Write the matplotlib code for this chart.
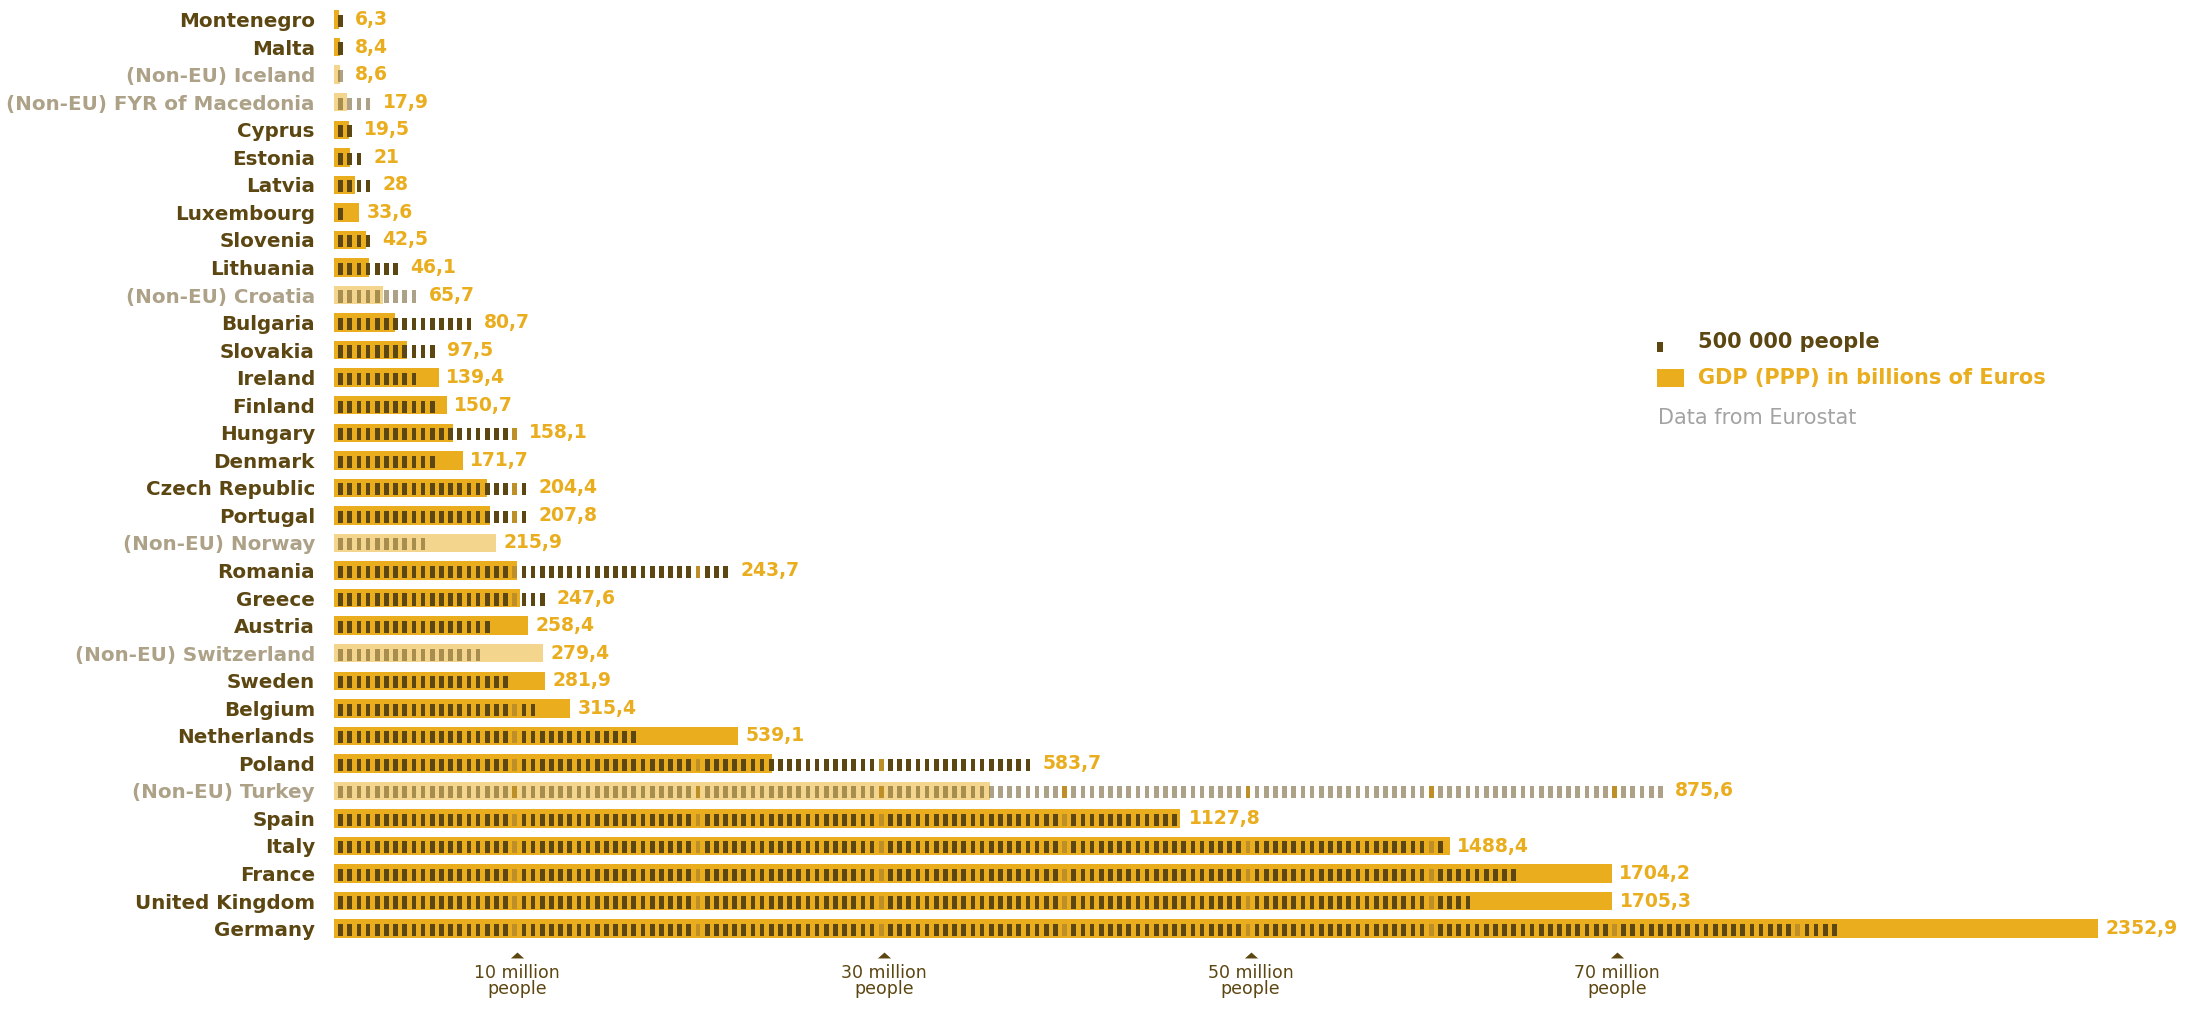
import matplotlib
matplotlib.use("Agg")
import matplotlib.pyplot as plt
from matplotlib.patches import Rectangle

# rows from top to bottom
countries = ["Montenegro", "Malta", "(Non-EU) Iceland", "(Non-EU) FYR of Macedonia",
             "Cyprus", "Estonia", "Latvia", "Luxembourg", "Slovenia", "Lithuania",
             "(Non-EU) Croatia", "Bulgaria", "Slovakia", "Ireland", "Finland", "Hungary",
             "Denmark", "Czech Republic", "Portugal", "(Non-EU) Norway", "Romania",
             "Greece", "Austria", "(Non-EU) Switzerland", "Sweden", "Belgium",
             "Netherlands", "Poland", "(Non-EU) Turkey", "Spain", "Italy", "France",
             "United Kingdom", "Germany"]

# GDP (PPP) in billions of Euros
gdp = [6.3, 8.4, 8.6, 17.9, 19.5, 21, 28, 33.6, 42.5, 46.1, 65.7, 80.7, 97.5, 139.4,
       150.7, 158.1, 171.7, 204.4, 207.8, 215.9, 243.7, 247.6, 258.4, 279.4, 281.9,
       315.4, 539.1, 583.7, 875.6, 1127.8, 1488.4, 1704.2, 1705.3, 2352.9]
gdp_labels = ["6,3", "8,4", "8,6", "17,9", "19,5", "21", "28", "33,6", "42,5", "46,1",
              "65,7", "80,7", "97,5", "139,4", "150,7", "158,1", "171,7", "204,4",
              "207,8", "215,9", "243,7", "247,6", "258,4", "279,4", "281,9", "315,4",
              "539,1", "583,7", "875,6", "1127,8", "1488,4", "1704,2", "1705,3", "2352,9"]

# population in millions (one mark = 500 000 people)
population = [0.6, 0.4, 0.3, 2.1, 0.8, 1.3, 2.2, 0.5, 2.0, 3.3, 4.4, 7.5, 5.4, 4.5,
              5.4, 10.0, 5.5, 10.5, 10.6, 4.9, 21.5, 11.3, 8.4, 7.8, 9.3, 10.8, 16.6,
              38.2, 72.6, 46.0, 60.3, 64.7, 62.0, 81.8]

tick_values = [10, 30, 50, 70]
tick_labels = ["10 million\npeople", "30 million\npeople", "50 million\npeople", "70 million\npeople"]

GDP_PER_MILLION = 24.45   # billions of euros drawn as long as one million people

DARK = "#5c4611"
GOLD = "#e9ad1d"
TENTH = "#bf8f27"
GREY = "#a3a3a3"


def main():
    plt.rcParams['font.family'] = ['DejaVu Sans']
    W, H = 2200, 1016
    fig = plt.figure(figsize=(W / 100, H / 100), dpi=100)
    x0 = 334
    ax = fig.add_axes([x0 / W, 0, 1 - x0 / W, 1])
    ax.set_xlim(0, (W - x0) / 18.33)
    ax.set_ylim(36.17, -0.711)
    ax.axis('off')

    for i in range(len(countries)):
        name = countries[i]
        non_eu = name.startswith("(Non-EU)")
        a = 0.5 if non_eu else 1.0
        blen = gdp[i] / GDP_PER_MILLION
        ax.barh(i, blen, height=0.67, left=0, color=GOLD, alpha=a, linewidth=0)

        n = int(population[i] * 2 + 0.5)
        lefts = [0.5 * k + 0.23 for k in range(n)]
        cols = [TENTH if (k + 1) % 20 == 0 else DARK for k in range(n)]
        alphas = [1.0 if (k + 1) % 20 == 0 else a for k in range(n)]
        for k in range(n):
            ax.barh(i + 0.05, 0.256, height=0.44, left=lefts[k], color=cols[k],
                    alpha=alphas[k], linewidth=0)

        end = max(blen, 0.5 * n + 0.25)
        ax.text(end + 0.4, i, gdp_labels[i], color=GOLD, fontsize=13.5,
                fontweight='bold', ha='left', va='center')
        ax.text(-1.04, i + 0.27, name, color=DARK, alpha=a, fontsize=14.3,
                fontweight='bold', ha='right', va='baseline')

    for t, lab in zip(tick_values, tick_labels):
        ax.scatter([t], [33.95], marker=[(-1, -0.45), (1, -0.45), (0, 0.45)],
                   s=90, color=DARK, linewidths=0)
        ax.text(t, 34.3, lab, color=DARK, fontsize=12.5, ha='center', va='top',
                linespacing=0.85)

    # legend
    fig.add_artist(Rectangle((1657 / W, 1 - 352 / H), 6 / W, 10 / H,
                             transform=fig.transFigure, color=DARK, linewidth=0))
    fig.add_artist(Rectangle((1657 / W, 1 - 387 / H), 27 / W, 18 / H,
                             transform=fig.transFigure, color=GOLD, linewidth=0))
    fig.text(1698 / W, 1 - 342 / H, "500 000 people", color=DARK, fontsize=15,
             fontweight='bold', ha='left', va='center')
    fig.text(1698 / W, 1 - 378 / H, "GDP (PPP) in billions of Euros", color=GOLD,
             fontsize=15, fontweight='bold', ha='left', va='center')
    fig.text(1658 / W, 1 - 418 / H, "Data from Eurostat", color=GREY, fontsize=15,
             ha='left', va='center')

    fig.savefig("out.png", dpi=100, facecolor='white')


if __name__ == '__main__':
    main()
